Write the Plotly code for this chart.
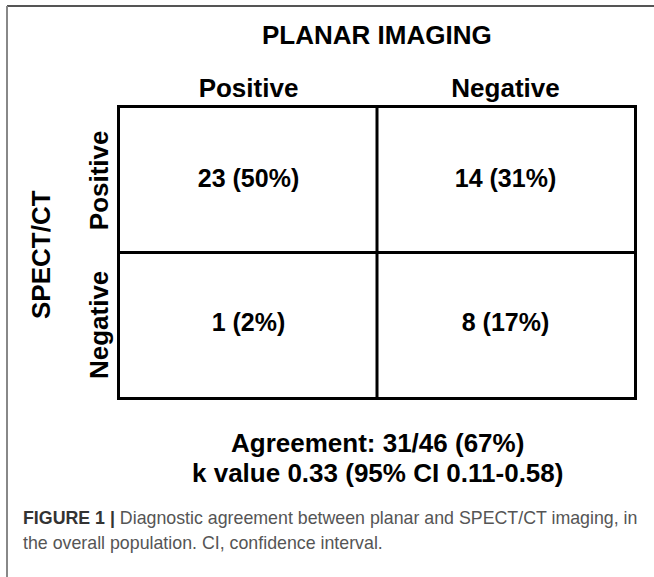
import plotly.graph_objects as go

W, H = 654, 577

# ---- data ----
planar_labels = ["Positive", "Negative"]      # columns (PLANAR IMAGING)
spect_labels = ["Positive", "Negative"]       # rows (SPECT/CT)
counts = [[23, 14],
          [1, 8]]
percents = [[50, 31],
            [2, 17]]
col_title = "PLANAR IMAGING"
row_title = "SPECT/CT"
agreement_text = "Agreement: 31/46 (67%)"
kappa_text = "k value 0.33 (95% CI 0.11-0.58)"
caption_bold = "FIGURE 1 |"
caption_line1 = "Diagnostic agreement between planar and SPECT/CT imaging, in"
caption_line2 = "the overall population. CI, confidence interval."

FONT = "Liberation Sans, Arial, sans-serif"


def py(pix):
    """pixel-from-top -> paper y"""
    return (H - pix) / H


def px(pix):
    return pix / W


# table geometry (pixels)
X0, X1 = 120, 634
Y0, Y1 = 108, 397

xs, ys, texts = [], [], []
for i, r in enumerate(spect_labels):
    for j, c in enumerate(planar_labels):
        xs.append(j)
        ys.append(i)
        texts.append(f"{counts[i][j]} ({percents[i][j]}%)")

fig = go.Figure()
fig.add_trace(go.Scatter(
    x=xs, y=ys, mode="text", text=texts,
    textfont=dict(family=FONT, size=25, color="black", weight="bold"),
    hoverinfo="skip", showlegend=False,
))

fig.update_layout(
    width=W, height=H,
    margin=dict(l=0, r=0, t=0, b=0),
    paper_bgcolor="white", plot_bgcolor="white",
    showlegend=False,
    xaxis=dict(
        domain=[px(X0), px(X1)],
        range=[-0.5, 1.5], side="top",
        tickvals=list(range(len(planar_labels))), ticktext=planar_labels,
        tickfont=dict(family=FONT, size=26, color="black", weight="bold"),
        ticks="", showgrid=False, zeroline=False,
        showline=True, mirror=True, linecolor="black", linewidth=3,
        ticklabelstandoff=-2, fixedrange=True,
    ),
    yaxis=dict(
        domain=[py(Y1), py(Y0)],
        range=[1.5, -0.5],
        tickvals=list(range(len(spect_labels))), ticktext=spect_labels,
        tickfont=dict(family=FONT, size=26, color="black", weight="bold"),
        tickangle=-90,
        ticks="", showgrid=False, zeroline=False,
        showline=True, mirror=True, linecolor="black", linewidth=3,
        ticklabelstandoff=-1, ticklabelshift=-4, fixedrange=True,
    ),
)

# inner grid lines between cells
fig.add_shape(type="line", xref="x", yref="y domain", x0=0.5, x1=0.5, y0=0, y1=1,
              line=dict(color="black", width=3))
fig.add_shape(type="line", xref="x domain", yref="y", x0=0, x1=1, y0=0.5, y1=0.5,
              line=dict(color="black", width=3))

# figure frame (top and left edges)
fig.add_shape(type="line", xref="paper", yref="paper", x0=px(7), x1=1, y0=py(6), y1=py(6),
              line=dict(color="#555555", width=2))
fig.add_shape(type="line", xref="paper", yref="paper", x0=px(7), x1=px(7), y0=py(6), y1=0,
              line=dict(color="#888888", width=2))

bold26 = dict(family=FONT, size=26, color="black", weight="bold")
fig.add_annotation(xref="paper", yref="paper", x=px((X0 + X1) / 2), y=py(35),
                   text=col_title, showarrow=False, font=bold26,
                   xanchor="center", yanchor="middle")
fig.add_annotation(xref="paper", yref="paper", x=px(41), y=py(254),
                   text=row_title, showarrow=False, font=bold26, textangle=-90,
                   xanchor="center", yanchor="middle")
fig.add_annotation(xref="paper", yref="paper", x=px((X0 + X1) / 2), y=py(443),
                   text=agreement_text, showarrow=False, font=bold26,
                   xanchor="center", yanchor="middle")
fig.add_annotation(xref="paper", yref="paper", x=px((X0 + X1) / 2), y=py(473),
                   text=kappa_text, showarrow=False, font=bold26,
                   xanchor="center", yanchor="middle")

cap_font = dict(family=FONT, size=17.8, color="#555555")
fig.add_annotation(xref="paper", yref="paper", x=px(21), y=py(518),
                   text=f"<b><span style='color:#333333'>{caption_bold}</span></b> {caption_line1}",
                   showarrow=False, font=cap_font, xanchor="left", yanchor="middle", align="left")
fig.add_annotation(xref="paper", yref="paper", x=px(21), y=py(543),
                   text=caption_line2,
                   showarrow=False, font=cap_font, xanchor="left", yanchor="middle", align="left")

fig.write_html("out.html", config={"displayModeBar": False},
               post_script="document.body.style.margin='0px';")
